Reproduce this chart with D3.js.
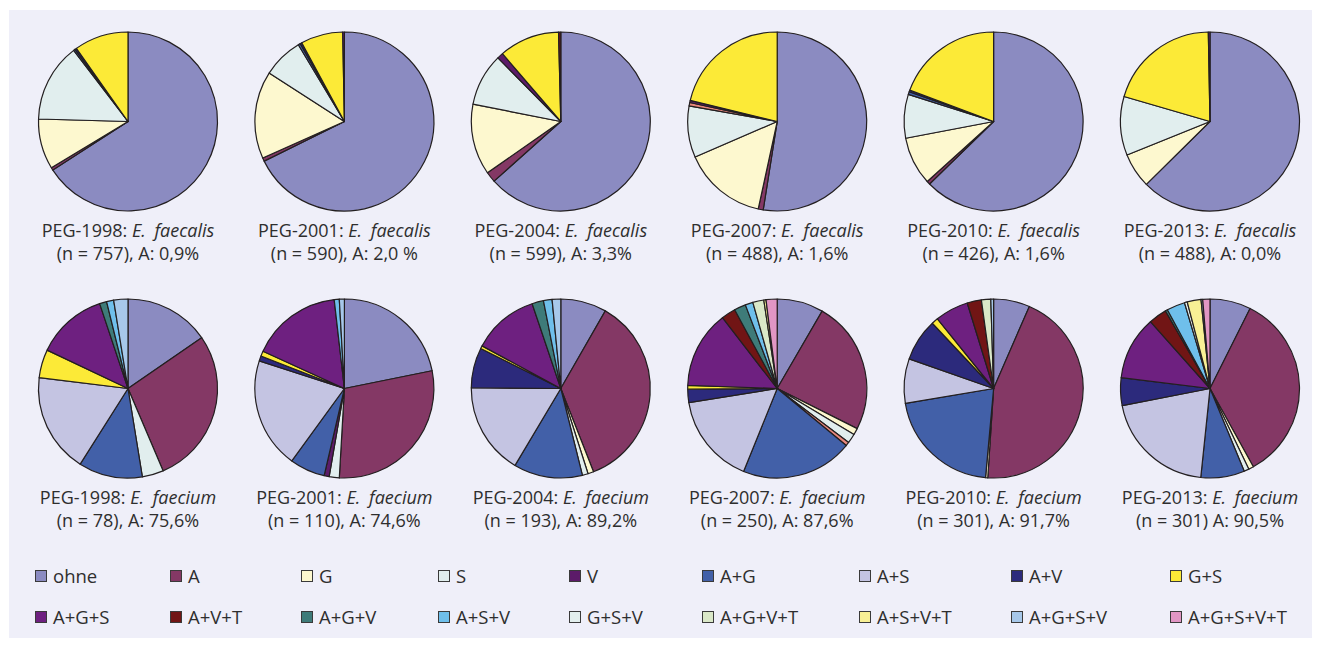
<!DOCTYPE html>
<html>
<head>
<meta charset="utf-8">
<script src="https://cdn.jsdelivr.net/npm/d3@7"></script>
<style>
  html, body { margin: 0; padding: 0; background: #ffffff; }
  svg { display: block; }
  text { font-family: "Open Sans", "Noto Sans", sans-serif; fill: #2e2e2e; }
</style>
</head>
<body>
<svg id="chart" width="1321" height="646"></svg>
<script>
// ---------- DATA ----------
// slice order (clockwise from 12 o'clock); "x" is an unlabelled salmon sliver seen in the 2007 pies
const sliceCategories = ["ohne","A","G","S","x","V","A+G","A+S","A+V","G+S","A+G+S","A+V+T","A+G+V","A+S+V","G+S+V","A+G+V+T","A+S+V+T","A+G+S+V","A+G+S+V+T"];
const legendRow1 = ["ohne","A","G","S","V","A+G","A+S","A+V","G+S"];
const legendRow2 = ["A+G+S","A+V+T","A+G+V","A+S+V","G+S+V","A+G+V+T","A+S+V+T","A+G+S+V","A+G+S+V+T"];
const sliceColors = ["#8b8bc1","#843865","#fdf8cf","#e1eeee","#e8877c","#5c1b69","#4260a8","#c4c4e2","#2c2a7c","#fcea37","#6e2080","#711515","#3e7b79","#6fbfeb","#e3efee","#dae8c8","#f8f095","#a7c8ea","#e196c4"];

// values (percent / counts) aligned with sliceCategories
const faecalis1998 = [66.0,0.5,9.1,14.2,0,0,0.3,0,0.3,9.8,0,0,0,0,0,0,0,0,0];
const faecalis2001 = [67.7,0.6,15.8,7.3,0,0,0.4,0,0.3,7.6,0.3,0,0,0,0,0,0,0,0];
const faecalis2004 = [63.4,1.9,12.8,9.5,0,1.1,0,0,0,10.9,0,0.4,0,0,0,0,0,0,0];
const faecalis2007 = [52.5,0.9,15.1,9.3,0.6,0.4,0,0,0,21.2,0,0,0,0,0,0,0,0,0];
const faecalis2010 = [62.7,0.6,8.7,7.9,0,0,0.5,0,0.3,19.3,0,0,0,0,0,0,0,0,0];
const faecalis2013 = [62.6,0,6.3,10.6,0,0,0,0,0,20.2,0.3,0,0,0,0,0,0,0,0];
const faecium1998  = [12,22,0,3,0,0,9,14,0,4,10,0,1,1,0,0,0,2,0];
const faecium2001  = [24,32,0,2,0,1,7,22,1,1,18,0,0,1,0,0,0,1,0];
const faecium2004  = [16,69,2,2,0,0,24,32,14,1,23,0,4,3,0,0,0,3,0];
const faecium2007  = [8.4,24.1,1.2,1.7,0.7,0,20.2,16.4,2.4,0.7,14,2.6,2.1,1.4,0,2,0.4,0,2];
const faecium2010  = [6.6,44.9,0.4,0,0,0,21.1,8.1,7.7,1.2,6.1,2.6,0,0,0,1.7,0,0.5,0];
const faecium2013  = [7.4,34.6,0.9,0.9,0,0,7.9,20.3,5,0,11.5,3.3,0.4,3.3,0.5,0,2.5,0.3,1.3];

const topSeries = [faecalis1998,faecalis2001,faecalis2004,faecalis2007,faecalis2010,faecalis2013];
const bottomSeries = [faecium1998,faecium2001,faecium2004,faecium2007,faecium2010,faecium2013];
const years = ["1998","2001","2004","2007","2010","2013"];
const topSubtitles = ["(n = 757), A: 0,9%","(n = 590), A: 2,0 %","(n = 599), A: 3,3%","(n = 488), A: 1,6%","(n = 426), A: 1,6%","(n = 488), A: 0,0%"];
const bottomSubtitles = ["(n = 78), A: 75,6%","(n = 110), A: 74,6%","(n = 193), A: 89,2%","(n = 250), A: 87,6%","(n = 301), A: 91,7%","(n = 301) A: 90,5%"];

// ---------- LAYOUT ----------
const svg = d3.select("#chart");
svg.append("rect").attr("x",9).attr("y",10).attr("width",1303).attr("height",628).attr("fill","#efeff9");

const color = d3.scaleOrdinal().domain(sliceCategories).range(sliceColors);
const xPos = d3.scalePoint().domain(years).range([128, 1210]);
const rowY = [121.5, 388.5];
const R = 89.5;

const pie = d3.pie().sort(null).value(d => d.v);
const arc = d3.arc().innerRadius(0).outerRadius(R);

function drawRow(seriesList, species, subtitles, cy) {
  seriesList.forEach((vals, i) => {
    const cx = xPos(years[i]);
    const data = sliceCategories.map((c, k) => ({c, v: vals[k]})).filter(d => d.v > 0);
    const g = svg.append("g").attr("transform", `translate(${cx},${cy})`);
    g.selectAll("path").data(pie(data)).join("path")
      .attr("d", arc)
      .attr("fill", d => color(d.data.c))
      .attr("stroke", "#231f20")
      .attr("stroke-width", 1.2)
      .attr("stroke-linejoin", "round");
    const t1 = svg.append("text").attr("x", cx).attr("y", cy + 115.5)
      .attr("text-anchor","middle").attr("font-size", 18);
    t1.append("tspan").text(`PEG-${years[i]}: `);
    t1.append("tspan").attr("font-style","italic").text("E.");
    t1.append("tspan").attr("font-style","italic").attr("dx", 4).text(" " + species);
    svg.append("text").attr("x", cx).attr("y", cy + 138)
      .attr("text-anchor","middle").attr("font-size", 18).text(subtitles[i]);
  });
}
drawRow(topSeries, "faecalis", topSubtitles, rowY[0]);
drawRow(bottomSeries, "faecium", bottomSubtitles, rowY[1]);

// ---------- LEGEND ----------
const legendX = [35, 170, 301, 438, 569, 702, 859, 1011, 1170];
const legendY = [576, 617];
[legendRow1, legendRow2].forEach((row, r) => {
  row.forEach((name, j) => {
    const g = svg.append("g").attr("transform", `translate(${legendX[j]},${legendY[r]})`);
    g.append("rect").attr("x", 0.5).attr("y", -5.5).attr("width", 11).attr("height", 11)
      .attr("fill", color(name)).attr("stroke", "#3a3a3a").attr("stroke-width", 1);
    g.append("text").attr("x", 18).attr("y", 6.5).attr("font-size", 18.5).text(name);
  });
});
</script>
</body>
</html>
